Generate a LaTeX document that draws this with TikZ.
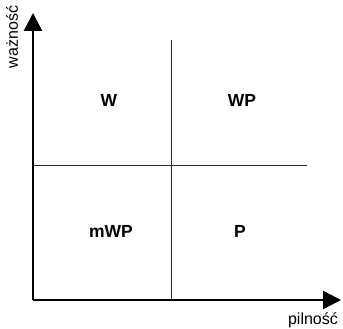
\documentclass[tikz,border=0pt]{standalone}
\usepackage{fontspec}
\setmainfont{Liberation Sans}
\usetikzlibrary{arrows.meta,positioning}

\begin{document}
\begin{tikzpicture}[x=1pt, y=1pt,
  axis/.style={-{Triangle[length=18pt,width=18pt]}, line width=2.4pt, black},
  divider/.style={line width=1pt, black!85},
  quad/.style={font=\fontsize{17.5}{20}\selectfont\bfseries, inner sep=0pt},
  axlabel/.style={font=\fontsize{16}{18}\selectfont, inner sep=0pt}
]
  \useasboundingbox (0,0) rectangle (343,329);

  \coordinate (orig) at (33,29);
  \coordinate (ytip) at (33,316);
  \coordinate (xtip) at (341,29);
  \coordinate (vtop) at (171,289);
  \coordinate (vbot) at (171,29);
  \coordinate (hleft) at (33,163);
  \coordinate (hright) at (307,163);

  % axes
  \draw[axis] (orig) -- (ytip);
  \draw[axis] (orig) -- (xtip);

  % quadrant split
  \draw[divider] (vbot) -- (vtop);
  \draw[divider] (hleft) -- (hright);

  \node[axlabel, rotate=90] (waz) at (12,292) {ważność};
  \node[axlabel] (piln) at (313,9) {pilność};

  \node[quad] (w)   at (109,229) {W};
  \node[quad] (wp)  at (242,229) {WP};
  \node[quad] (mwp) at (111,98)  {mWP};
  \node[quad] (p)   at (240,98)  {P};
\end{tikzpicture}
\end{document}
